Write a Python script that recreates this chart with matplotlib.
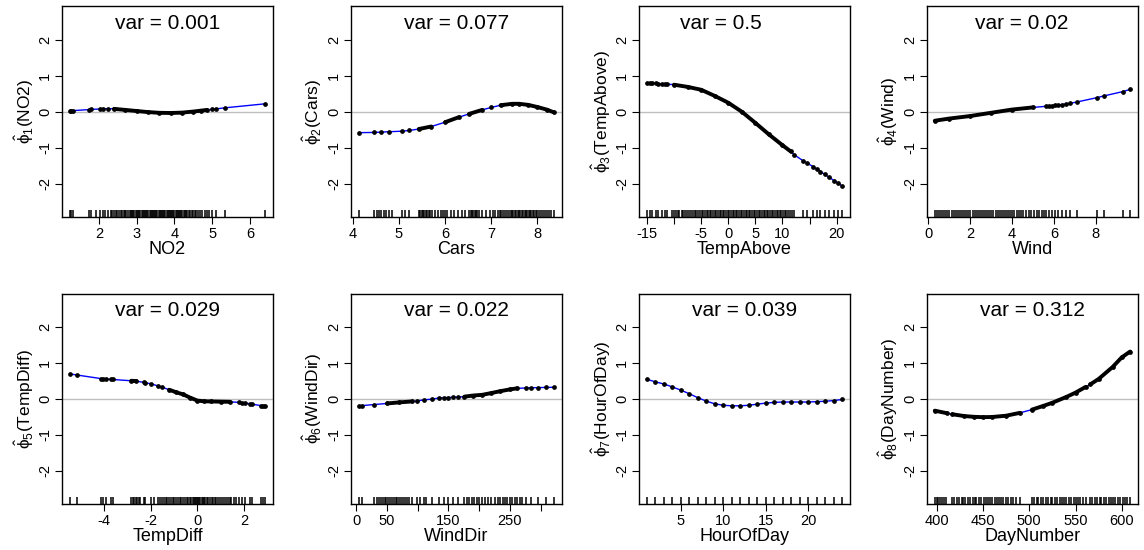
import numpy as np
import matplotlib.pyplot as plt

plt.rcParams['font.family'] = ['Liberation Sans', 'DejaVu Sans']
plt.rcParams['mathtext.fontset'] = 'custom'
plt.rcParams['mathtext.rm'] = 'Liberation Sans'
plt.rcParams['mathtext.it'] = 'Liberation Sans'
plt.rcParams['mathtext.default'] = 'regular'

names = ['NO2', 'Cars', 'TempAbove', 'Wind', 'TempDiff', 'WindDir', 'HourOfDay', 'DayNumber']
var_text = ['0.001', '0.077', '0.5', '0.02', '0.029', '0.022', '0.039', '0.312']

# fitted transforms
no2_x = [1.23, 1.27, 1.31, 1.74, 1.79, 2.02, 2.1, 2.24, 2.4, 2.7, 3.0, 3.3, 3.6, 3.9, 4.2, 4.5, 4.7, 4.86, 5.0, 5.11, 5.35, 6.4]
no2_y = [0.02, 0.025, 0.03, 0.06, 0.065, 0.075, 0.08, 0.085, 0.08, 0.05, 0.02, -0.01, -0.03, -0.035, -0.025, 0.005, 0.03, 0.05, 0.065, 0.08, 0.11, 0.22]

cars_x = [4.13, 4.46, 4.62, 4.78, 5.07, 5.22, 5.43, 5.7, 6.0, 6.3, 6.52, 6.8, 7.0, 7.2, 7.45, 7.6, 7.8, 8.0, 8.2, 8.36]
cars_y = [-0.58, -0.575, -0.565, -0.555, -0.54, -0.52, -0.48, -0.41, -0.29, -0.15, -0.06, 0.05, 0.12, 0.18, 0.22, 0.22, 0.19, 0.13, 0.06, -0.02]

temp_x = [-15.0, -14.5, -14.0, -13.4, -12.9, -12.3, -11.7, -11.2, -10.0, -7.5, -5.0, -2.5, 0.0, 2.5, 5.0, 7.5, 10.0, 11.5,
          12.2, 13.8, 14.5, 15.6, 16.3, 17.0, 17.8, 18.6, 19.5, 20.3, 21.0]
temp_y = [0.80, 0.795, 0.79, 0.785, 0.78, 0.775, 0.77, 0.765, 0.75, 0.69, 0.61, 0.44, 0.25, 0.0, -0.31, -0.63, -0.93, -1.1,
          -1.2, -1.36, -1.42, -1.52, -1.59, -1.66, -1.74, -1.82, -1.91, -1.99, -2.06]

wind_x = [0.32, 1.0, 2.0, 3.0, 4.0, 5.0, 5.62, 5.75, 5.9, 6.05, 6.2, 6.4, 6.6, 6.75, 7.1, 8.05, 8.4, 9.3, 9.64]
wind_y = [-0.25, -0.19, -0.12, -0.03, 0.06, 0.12, 0.15, 0.16, 0.17, 0.18, 0.19, 0.2, 0.22, 0.23, 0.27, 0.39, 0.44, 0.56, 0.62]

tdiff_x = [-5.45, -5.15, -4.12, -4.02, -3.92, -3.7, -3.62, -2.82, -2.6, -2.3, -2.22, -2.0, -1.7, -1.5, -1.2, -0.9, -0.6,
           -0.3, 0.0, 0.3, 0.6, 1.0, 1.4, 1.78, 1.9, 2.05, 2.25, 2.35, 2.72, 2.8, 2.9]
tdiff_y = [0.69, 0.66, 0.56, 0.555, 0.55, 0.54, 0.535, 0.50, 0.49, 0.455, 0.44, 0.42, 0.36, 0.32, 0.25, 0.18, 0.12,
           0.03, -0.05, -0.07, -0.075, -0.08, -0.085, -0.10, -0.11, -0.12, -0.14, -0.15, -0.19, -0.195, -0.21]

wdir_x = [4, 9, 29, 50, 70, 90, 99, 110, 123, 134, 142, 150, 158, 166, 176, 190, 205, 220, 234, 250, 262, 276, 285, 295, 309, 322]
wdir_y = [-0.19, -0.19, -0.16, -0.13, -0.10, -0.075, -0.06, -0.03, -0.01, 0.02, 0.03, 0.035, 0.04, 0.045, 0.06, 0.09,
          0.11, 0.16, 0.21, 0.26, 0.29, 0.30, 0.305, 0.31, 0.315, 0.32]

hour_x = list(range(1, 25))
hour_y = [0.54, 0.47, 0.41, 0.33, 0.24, 0.14, 0.03, -0.065, -0.14, -0.18, -0.195, -0.195, -0.18, -0.15, -0.12, -0.10,
          -0.09, -0.09, -0.09, -0.09, -0.08, -0.07, -0.05, -0.02]

day_x = [398, 411, 417, 430, 440, 450, 460, 475, 490, 503, 515, 525, 540, 550, 561, 566, 575, 590, 600, 609]
day_y = [-0.33, -0.40, -0.43, -0.48, -0.50, -0.51, -0.505, -0.47, -0.39, -0.30, -0.20, -0.11, 0.05, 0.17, 0.33, 0.40,
         0.55, 0.88, 1.15, 1.31]

# observed values (rug)
no2_rug = [1.23, 1.27, 1.31, 1.74, 1.79, 1.92, 2.02, 2.1, 2.16, 2.24, 2.31, 2.35, 2.4, 2.44, 2.49, 2.53, 2.58, 2.62, 2.66,
           2.7, 2.73, 2.77, 2.81, 2.84, 2.88, 2.91, 2.94, 2.97, 3.0, 3.03, 3.06, 3.1, 3.13, 3.16, 3.19, 3.22, 3.25, 3.28,
           3.31, 3.34, 3.37, 3.4, 3.43, 3.46, 3.49, 3.52, 3.55, 3.58, 3.61, 3.64, 3.67, 3.7, 3.73, 3.76, 3.79, 3.82,
           3.85, 3.88, 3.91, 3.94, 3.97, 4.0, 4.03, 4.06, 4.09, 4.12, 4.15, 4.18, 4.21, 4.24, 4.27, 4.3, 4.34, 4.38,
           4.42, 4.46, 4.5, 4.54, 4.58, 4.63, 4.68, 4.74, 4.8, 4.86, 4.92, 5.0, 5.11, 5.35, 6.4]
cars_rug = [4.13, 4.46, 4.52, 4.57, 4.62, 4.68, 4.73, 4.78, 4.84, 5.07, 5.12, 5.22, 5.43, 5.46, 5.49, 5.52, 5.55, 5.58,
            5.61, 5.64, 5.68, 5.72, 5.77, 5.85, 5.9, 5.95, 6.0, 6.05, 6.12, 6.2, 6.28, 6.36, 6.42, 6.52, 6.55, 6.58,
            6.61, 6.64, 6.67, 6.7, 6.74, 6.8, 6.88, 6.97, 7.03, 7.09, 7.14, 7.18, 7.22, 7.26, 7.3, 7.34, 7.38, 7.42,
            7.45, 7.48, 7.51, 7.54, 7.57, 7.6, 7.63, 7.66, 7.69, 7.72, 7.75, 7.78, 7.81, 7.84, 7.87, 7.9, 7.93, 7.96,
            8.0, 8.04, 8.08, 8.12, 8.16, 8.2, 8.25, 8.3, 8.36]
temp_rug = [-15.0, -14.5, -14.0, -13.4, -12.9, -12.3, -11.7, -11.2, -10.4, -10.0, -9.7, -9.3, -9.0, -8.6, -8.3, -7.9,
            -7.6, -7.2, -6.9, -6.5, -6.2, -5.9, -5.5, -5.2, -4.9, -4.6, -4.3, -4.0, -3.7, -3.4, -3.1, -2.8, -2.5, -2.2,
            -1.9, -1.6, -1.3, -1.0, -0.7, -0.4, -0.1, 0.2, 0.5, 0.8, 1.1, 1.4, 1.7, 2.0, 2.3, 2.6, 2.9, 3.2, 3.5, 3.8,
            4.1, 4.4, 4.7, 5.0, 5.3, 5.6, 5.9, 6.2, 6.5, 6.8, 7.1, 7.4, 7.7, 8.0, 8.3, 8.6, 8.9, 9.2, 9.5, 9.8, 10.1,
            10.4, 10.7, 11.0, 11.4, 11.8, 12.2, 13.8, 14.5, 15.6, 16.3, 17.0, 17.8, 18.6, 19.5, 20.3, 21.0]
wind_rug = [0.32, 0.42, 0.52, 0.62, 0.72, 0.82, 0.92, 1.02, 1.12, 1.22, 1.32, 1.42, 1.52, 1.62, 1.72, 1.82, 1.92, 2.02,
            2.12, 2.22, 2.32, 2.42, 2.52, 2.62, 2.72, 2.82, 2.92, 3.02, 3.12, 3.22, 3.32, 3.42, 3.52, 3.62, 3.72, 3.82,
            3.92, 4.02, 4.12, 4.22, 4.32, 4.42, 4.55, 4.68, 4.8, 4.92, 5.05, 5.18, 5.3, 5.42, 5.55, 5.62, 5.75, 5.9,
            6.05, 6.2, 6.4, 6.6, 6.75, 7.1, 8.05, 8.4, 9.3, 9.64]
tdiff_rug = [-5.45, -5.15, -4.12, -4.02, -3.92, -3.7, -3.62, -2.82, -2.76, -2.7, -2.64, -2.58, -2.5, -2.44, -2.3, -2.22,
             -2.0, -1.85, -1.7, -1.6, -1.5, -1.42, -1.35, -1.28, -1.2, -1.12, -1.05, -0.98, -0.9, -0.82, -0.75, -0.68,
             -0.6, -0.52, -0.45, -0.38, -0.32, -0.26, -0.2, -0.15, -0.1, -0.05, 0.0, 0.04, 0.08, 0.13, 0.18, 0.23,
             0.28, 0.34, 0.4, 0.47, 0.54, 0.61, 0.68, 0.75, 0.82, 0.9, 0.98, 1.06, 1.14, 1.22, 1.3, 1.38, 1.46, 1.55,
             1.65, 1.78, 1.9, 2.05, 2.25, 2.35, 2.72, 2.8, 2.9]
wdir_rug = [4, 9, 29, 34, 37, 40, 43, 46, 49, 52, 55, 58, 61, 64, 67, 70, 73, 76, 79, 82, 86, 90, 99, 104, 110, 113, 123,
            134, 142, 150, 158, 166, 176, 180, 184, 188, 192, 196, 200, 205, 210, 215, 220, 226, 230, 234, 238, 242,
            246, 250, 254, 258, 262, 266, 270, 276, 285, 295, 309, 322]
hour_rug = list(range(1, 25))
day_rug = [398, 400, 402, 404, 406, 408, 410, 417, 419, 422, 424, 427, 429, 431, 434, 436, 439, 441, 443, 446, 448, 451,
           453, 455, 458, 460, 463, 465, 467, 470, 472, 475, 477, 480, 483, 486, 490, 503, 505, 508, 510, 513, 515,
           518, 520, 523, 525, 528, 530, 533, 535, 538, 540, 543, 545, 548, 550, 553, 555, 558, 561, 566, 568, 571,
           573, 576, 578, 581, 583, 586, 588, 591, 593, 596, 598, 601, 603, 606, 609]

# stretches where the points pile up into a solid line
dense = [[(2.3, 4.95)],
         [(5.43, 5.77), (5.9, 6.42), (6.52, 6.97), (7.03, 8.36)],
         [(-10.5, 11.8)],
         [(0.32, 5.6)],
         [(-2.82, -2.4), (-1.3, 1.6)],
         [(32, 92), (176, 272)],
         [],
         [(398, 411), (417, 490), (503, 561), (566, 609)]]

xticks = [[2, 3, 4, 5, 6], [4, 5, 6, 7, 8], [-15, -10, -5, 0, 5, 10, 15, 20], [0, 2, 4, 6, 8],
          [-4, -2, 0, 2], [0, 50, 100, 150, 200, 250, 300], [5, 10, 15, 20], [400, 450, 500, 550, 600]]
xlabels = [['2', '3', '4', '5', '6'], ['4', '5', '6', '7', '8'], ['-15', '', '-5', '0', '5', '10', '', '20'],
           ['0', '2', '4', '6', '8'], ['-4', '-2', '0', '2'], ['0', '50', '', '150', '', '250', ''],
           ['5', '10', '15', '20'], ['400', '450', '500', '550', '600']]
title_x = [0.5, 0.5, 0.39, 0.45, 0.5, 0.5, 0.5, 0.5]

curves_x = [no2_x, cars_x, temp_x, wind_x, tdiff_x, wdir_x, hour_x, day_x]
curves_y = [no2_y, cars_y, temp_y, wind_y, tdiff_y, wdir_y, hour_y, day_y]
rugs = [no2_rug, cars_rug, temp_rug, wind_rug, tdiff_rug, wdir_rug, hour_rug, day_rug]

lefts = [0.0542, 0.3068, 0.5586, 0.8103]
bottoms = [0.6055, 0.0836]

fig = plt.figure(figsize=(11.44, 5.5), dpi=100)

for i in range(8):
    ax = fig.add_axes([lefts[i % 4], bottoms[i // 4], 0.1844, 0.3827])
    kx = np.array(curves_x[i], dtype=float)
    ky = np.array(curves_y[i], dtype=float)
    ax.axhline(0, color='#BEBEBE', lw=1, zorder=1)
    ax.plot(kx, ky, color='#0000FF', lw=1, zorder=2)
    for lo, hi in dense[i]:
        m = (kx >= lo) & (kx <= hi)
        ax.plot(kx[m], ky[m], color='black', lw=2.8, solid_capstyle='round', zorder=3)
    ax.plot(kx, ky, 'o', color='black', ms=2.4, zorder=4)
    ax.vlines(rugs[i], 0, 0.033, transform=ax.get_xaxis_transform(), color='black', lw=1.1)

    lo, hi = min(rugs[i]), max(rugs[i])
    pad = 0.04 * (hi - lo)
    ax.set_xlim(lo - pad, hi + pad)
    ax.set_ylim(-2.92, 2.92)

    ax.set_xticks(xticks[i])
    ax.set_xticklabels(xlabels[i])
    ax.set_yticks([-2, -1, 0, 1, 2])
    ax.set_yticklabels(['-2', '-1', '0', '1', '2'], rotation=90, va='center')
    ax.tick_params(direction='out', length=5, width=0.8, labelsize=10.5, pad=2)
    for s in ax.spines.values():
        s.set_linewidth(1)

    ax.set_xlabel(names[i], fontsize=13, labelpad=0)
    ax.set_ylabel(r'$\hat{\phi}_{%d}$(%s)' % (i + 1, names[i]), fontsize=12.5, labelpad=2)
    ax.text(title_x[i], 0.92, 'var = ' + var_text[i], transform=ax.transAxes,
            ha='center', va='center', fontsize=15)

fig.savefig('out.png', dpi=100)
